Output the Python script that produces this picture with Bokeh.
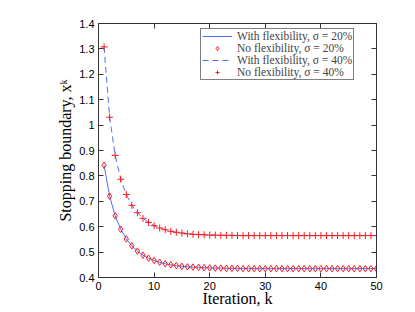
from bokeh.plotting import figure
from bokeh.models import LinearAxis, FixedTicker, Legend, LegendItem, Range1d
from bokeh.embed import file_html
from bokeh.resources import INLINE

iterations = list(range(1, 51))
boundary_sigma20 = [0.842, 0.720, 0.643, 0.590, 0.552, 0.525, 0.504, 0.488, 0.476, 0.467,
                    0.460, 0.454, 0.450, 0.447, 0.444, 0.442, 0.441, 0.440, 0.439, 0.438,
                    0.437, 0.437, 0.436, 0.436, 0.436, 0.435, 0.435, 0.435, 0.435, 0.435,
                    0.435, 0.435, 0.435, 0.435, 0.435, 0.435, 0.435, 0.435, 0.435, 0.435,
                    0.435, 0.435, 0.435, 0.435, 0.435, 0.435, 0.435, 0.435, 0.435, 0.435]
boundary_sigma40 = [1.308, 1.031, 0.881, 0.787, 0.727, 0.684, 0.655, 0.633, 0.617, 0.604,
                    0.595, 0.588, 0.582, 0.578, 0.575, 0.572, 0.570, 0.569, 0.568, 0.567,
                    0.567, 0.566, 0.566, 0.566, 0.565, 0.565, 0.565, 0.565, 0.565, 0.565,
                    0.565, 0.565, 0.565, 0.565, 0.565, 0.565, 0.565, 0.565, 0.565, 0.565,
                    0.565, 0.565, 0.565, 0.565, 0.565, 0.565, 0.565, 0.565, 0.565, 0.565]
x_ticks = [0, 10, 20, 30, 40, 50]
y_ticks = [0.4, 0.5, 0.6, 0.7, 0.8, 0.9, 1.0, 1.1, 1.2, 1.3, 1.4]
y_tick_labels = ["0.4", "0.5", "0.6", "0.7", "0.8", "0.9", "1", "1.1", "1.2", "1.3", "1.4"]
legend_labels = ["With flexibility, σ = 20%", "No flexibility, σ = 20%",
                 "With flexibility, σ = 40%", "No flexibility, σ = 40%"]
x_label = "Iteration, k"
y_label = "Stopping boundary, xᵏ"

p = figure(width=410, height=310, output_backend="svg", toolbar_location=None,
           x_range=Range1d(0, 50), y_range=Range1d(0.4, 1.4),
           min_border_left=98, min_border_right=34, min_border_top=23, min_border_bottom=33)
p.grid.visible = False
p.outline_line_color = "#333333"
p.background_fill_color = "white"

def style_axis(ax, ticks, show_labels):
    ax.ticker = FixedTicker(ticks=ticks)
    ax.major_tick_in = 5
    ax.major_tick_out = 0
    ax.minor_tick_line_color = None
    ax.axis_line_color = "#333333"
    ax.major_tick_line_color = "#333333"
    if show_labels:
        ax.major_label_text_font = "Liberation Sans"
        ax.major_label_text_font_size = "11px"
        ax.major_label_text_color = "black"
        ax.major_label_standoff = 4
    else:
        ax.major_label_text_font_size = "0px"
        ax.major_label_standoff = 0

style_axis(p.xaxis[0], x_ticks, True)
style_axis(p.yaxis[0], y_ticks, True)
p.yaxis[0].major_label_overrides = {t: s for t, s in zip(y_ticks, y_tick_labels)}

for ax, lab, so in ((p.xaxis[0], x_label, -3), (p.yaxis[0], y_label, 2)):
    ax.axis_label = lab
    ax.axis_label_text_font = "Liberation Serif"
    ax.axis_label_text_font_style = "normal"
    ax.axis_label_text_font_size = "16px"
    ax.axis_label_text_color = "black"
    ax.axis_label_standoff = so

top_ax = LinearAxis()
style_axis(top_ax, x_ticks, False)
p.add_layout(top_ax, "above")
right_ax = LinearAxis()
style_axis(right_ax, y_ticks, False)
p.add_layout(right_ax, "right")

line_blue = "#3a5cff"
r1 = p.line(iterations, boundary_sigma20, line_color=line_blue, line_width=0.9)
r2 = p.scatter(iterations, boundary_sigma20, marker="diamond", size=6.5,
               line_color="#ff1a1a", fill_color=None, line_width=1)
r3 = p.line(iterations, boundary_sigma40, line_color=line_blue, line_width=0.9, line_dash="6 4")
r4 = p.scatter(iterations, boundary_sigma40, marker="cross", size=7,
               line_color="#ff1a1a", line_width=1)

legend = Legend(items=[LegendItem(label=legend_labels[0], renderers=[r1]),
                       LegendItem(label=legend_labels[1], renderers=[r2]),
                       LegendItem(label=legend_labels[2], renderers=[r3]),
                       LegendItem(label=legend_labels[3], renderers=[r4])],
                location=(102, 197), orientation="vertical")
legend.label_text_font = "Liberation Serif"
legend.label_text_font_size = "11.5px"
legend.label_height = 10
legend.glyph_height = 10
legend.glyph_width = 30
legend.label_standoff = 5
legend.spacing = 0
legend.padding = 1
legend.margin = 0
legend.border_line_color = "black"
legend.border_line_width = 1
legend.background_fill_alpha = 1
p.add_layout(legend, "center")

open("out.html", "w").write(file_html(p, INLINE))
